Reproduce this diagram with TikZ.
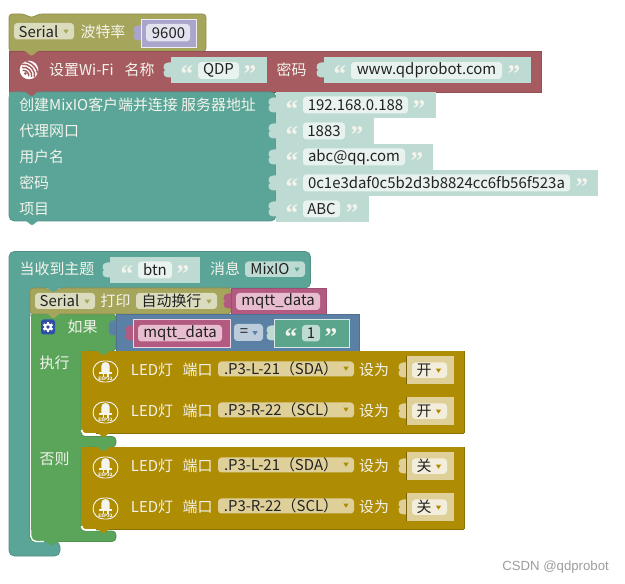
\documentclass[tikz,border=0pt]{standalone}
\usepackage{fontspec}
\setmainfont{Noto Sans CJK SC}
\newfontfamily\wmfont{Liberation Sans}
\newfontfamily\qfont{Liberation Serif}
\definecolor{cSer}{HTML}{A5A55C}
\definecolor{cWifi}{HTML}{A55B5F}
\definecolor{cTeal}{HTML}{5BA598}
\definecolor{cStr}{HTML}{BDDAD3}
\definecolor{cStrF}{HTML}{E8F2EF}
\definecolor{cNum}{HTML}{A9A5CB}
\definecolor{cNumF}{HTML}{E3E2EF}
\definecolor{cSerF}{HTML}{DBDBBE}
\definecolor{cPink}{HTML}{B35A80}
\definecolor{cPinkF}{HTML}{E8BDD0}
\definecolor{cGreen}{HTML}{5BA55B}
\definecolor{cBlue}{HTML}{5B80A5}
\definecolor{cBlueF}{HTML}{BDCCDB}
\definecolor{cLogic}{HTML}{5BA58C}
\definecolor{cLogicF}{HTML}{BDDBD0}
\definecolor{cGold}{HTML}{AE8C04}
\definecolor{cGoldF}{HTML}{DFD09A}
\definecolor{cGoldI}{HTML}{F3EEDC}
\definecolor{cLbl}{HTML}{F4F4EC}
\definecolor{cTxt}{HTML}{222222}
\definecolor{cGear}{HTML}{2F4FA8}
\newcount\nn
\tikzset{
  lbl/.style={anchor=center,inner sep=0pt,yshift=-0.5pt,text=cLbl,font=\fontsize{11.2pt}{13pt}\selectfont},
  fieldtxt/.style={anchor=center,inner sep=0pt,yshift=-0.3pt,text=cTxt,font=\fontsize{11.2pt}{13pt}\selectfont},
  quote/.style={anchor=center,inner sep=0pt,text=cLbl,font=\qfont\bfseries\fontsize{19pt}{19pt}\selectfont},
  blk/.style={fill=#1,draw=#1!88!black,line width=0.6pt},
}
\newcommand{\lab}[3]{\global\advance\nn by 1 \node[lbl] (n\the\nn) at (#1,#2) {#3};}
\newcommand{\ffld}[7]{\fill[#5,rounded corners=2.5] (#1,#2) rectangle (#3,#4);
  \global\advance\nn by 1 \node[fieldtxt] (n\the\nn) at ({#6},{(#2+#4)/2-0.4}) {#7};}
\newcommand{\tri}[3]{\fill[#3] (#1-2.6,#2-1.8) -- (#1+2.6,#2-1.8) -- (#1,#2+2.2) -- cycle;}
\newcommand{\tabin}[3]{\fill[#3] (#1+0.5,#2-7.5) -- (#1-2.5,#2-7.5) .. controls (#1-7,#2-7) and (#1-8,#2-4) .. (#1-7.5,#2-2)
  .. controls (#1-5.5,#2-1) and (#1-5.5,#2+1) .. (#1-7.5,#2+2)
  .. controls (#1-8,#2+4) and (#1-7,#2+7) .. (#1-2.5,#2+7.5) -- (#1+0.5,#2+7.5) -- cycle;}
\newcommand{\tabdown}[3]{\fill[#3] (#1,#2-0.5) .. controls (#1+3,#2-0.5) and (#1+5,#2+4) .. (#1+7.5,#2+4)
  .. controls (#1+10,#2+4) and (#1+12,#2-0.5) .. (#1+15,#2-0.5) -- cycle;}
\newcommand{\qo}[2]{\global\advance\nn by 1 \node[quote] (n\the\nn) at (#1,#2+4.3) {“};}
\newcommand{\qc}[2]{\global\advance\nn by 1 \node[quote] (n\the\nn) at (#1,#2+4.3) {”};}
\newcommand{\strblk}[9]{\pgfmathsetmacro\ymid{(#2+#4)/2}
  \tabin{#1}{\ymid}{cStr}
  \fill[cStr] (#1,#2) rectangle (#3,#4);
  \ffld{#5}{\ymid-8.5}{#6}{\ymid+8.5}{cStrF}{(#5+#6)/2}{#9}
  \qo{#7}{\ymid}\qc{#8}{\ymid}}
\newcommand{\ledrow}[3]{%
  \fill[cGold] (81,#1) rectangle (464,#1+41);
  \draw[cGold!80!black,line width=0.5pt] (81,#1+41) -- (464,#1+41) (464,#1) -- (464,#1+41);
  \begin{scope}[shift={(105.5,#1+20.5)}]
    \draw[cLbl,line width=0.7pt,rounded corners=8] (-12.5,-10.5) rectangle (12.5,10.5);
    \fill[cLbl] (-4.2,0.5) -- (-4.2,-5.3) arc[start angle=180,end angle=360,radius=4.2] -- (4.2,0.5) -- cycle;
    \fill[cLbl] (-6.5,0.3) rectangle (6.5,2.6);
    \fill[cLbl] (-3,2.6) rectangle (-1.6,6);
    \fill[cLbl] (1.6,2.6) rectangle (3,6);
    \global\advance\nn by 1
    \node[anchor=center,inner sep=0pt,text=cLbl,font=\bfseries\fontsize{3.4pt}{4pt}\selectfont] (n\the\nn) at (0,7.3) {ESP32};
  \end{scope}
  \lab{152}{#1+18}{LED灯}
  \lab{197.5}{#1+18}{端口}
  \ffld{218}{#1+10.5}{354}{#1+25.5}{cGoldF}{281}{#2}
  \tri{346}{#1+17.5}{cGold}
  \lab{374}{#1+18}{设为}
  \tabin{406}{#1+19}{cGoldF}
  \fill[cGoldF] (406,#1+5) rectangle (454,#1+33);
  \draw[cGold!70!black,line width=0.4pt] (406,#1+5) -- (406,#1+33);
  \ffld{412}{#1+11.5}{447}{#1+27}{cGoldI}{424}{#3}
  \tri{438.5}{#1+19.5}{cGold}
}
\begin{document}
\begin{tikzpicture}[x=0.75pt,y=-0.75pt]
\useasboundingbox (0,0) rectangle (625,584);
\fill[white] (0,0) rectangle (625,584);

% ---------- Serial baud
\fill[blk=cSer,rounded corners=2.5] (9,51.5) -- (9,14) -- (24,14) -- (31.5,18) -- (39,14) -- (206,14) -- (206,51.5) -- cycle;
\ffld{14}{23}{74}{39.5}{cSerF}{38.5}{Serial}
\tri{66}{31.5}{cSer}
\lab{103}{31}{波特率}
\tabin{141}{33}{cNum}
\fill[cNum] (141,19) rectangle (196,47);
\draw[white!80!cNum,line width=0.4pt] (141,19) rectangle (196,47);
\ffld{146}{24}{190}{41.5}{cNumF}{168.5}{9600}

% ---------- WiFi
\fill[blk=cWifi] (9,51.5) rectangle (541.5,92);
\tabdown{24}{51.5}{cSer}
\fill[white] (29,70) circle[radius=9.3];
\begin{scope}[shift={(29,70)}]
  \clip (0,0) circle[radius=9.3];
  \foreach \r in {5.2,8.2,11.2,14.2}{
    \draw[cWifi,line width=1.1pt] (-5.5,5.5) ++(-100:\r) arc[start angle=-100,end angle=10,radius=\r];
  }
  \fill[cWifi] (-3.6,3.6) circle[radius=1.5];
\end{scope}
\lab{81.5}{69}{设置Wi-Fi}
\lab{139.5}{69}{名称}
\tabin{171}{70}{cStr}
\fill[cStr] (171,57) rectangle (267,83);
\ffld{198}{62}{239}{79}{cStrF}{218.5}{QDP}
\qo{187}{70}\qc{250}{70}
\lab{291.5}{69}{密码}
\tabin{324}{70}{cStr}
\fill[cStr] (324,57) rectangle (531,83);
\ffld{351}{62}{502}{79}{cStrF}{426.5}{www.qdprobot.com}
\qo{340}{70}\qc{514}{70}

% ---------- MixIO connect
\fill[blk=cTeal,rounded corners=4] (9,92) -- (276,92) -- (276,221) -- (9,221) -- cycle;
\fill[cTeal] (9,92) rectangle (20,100);
\tabdown{24}{92}{cWifi}
\tabdown{24.5}{221}{cTeal}
\node[lbl,anchor=west] (rowa) at (19,104) {创建MixIO客户端并连接 服务器地址};
\node[lbl,anchor=west] (rowb) at (19,130) {代理网口};
\node[lbl,anchor=west] (rowc) at (19,156) {用户名};
\node[lbl,anchor=west] (rowd) at (19,182) {密码};
\node[lbl,anchor=west] (rowe) at (19,208) {项目};
\strblk{276}{92}{436}{118}{303}{408}{292}{419}{192.168.0.188}
\strblk{276}{118}{374}{144}{303}{345}{292}{357}{1883}
\strblk{276}{144}{433}{170}{303}{405}{292}{417}{abc@qq.com}
\strblk{276}{170}{598}{196}{303}{570}{292}{582}{0c1e3daf0c5b2d3b8824cc6fb56f523a}
\strblk{276}{196}{369}{222}{303}{340}{292}{352}{ABC}

% ---------- MQTT receive (C shape)
\fill[blk=cTeal,rounded corners=4] (9,251.5) -- (310.5,251.5) -- (310.5,288) -- (30,288) -- (30,541.5) -- (60,541.5) -- (60,556) -- (9,556) -- cycle;
\lab{57}{268}{当收到主题}
\strblk{110}{257}{200}{283}{138}{172}{127}{183}{btn}
\lab{225}{268}{消息}
\ffld{245}{261.5}{305}{277}{cStr}{270}{MixIO}
\tri{297}{269.5}{cTeal}

% ---------- If / else (green C)
\fill[blk=cGreen,rounded corners=3] (30,314) -- (116,314) -- (116,351) -- (81,351) -- (81,436.5) -- (116,436.5) -- (116,447) -- (81,447) -- (81,531) -- (116,531) -- (116,541.5) -- (30,541.5) -- cycle;
\fill[cGreen] (100,351) rectangle (116,354);
\draw[white,line width=1pt,rounded corners=4] (30.8,530) -- (30.8,541.5) -- (44,541.5);
\tabdown{44.5}{541.5}{cGreen}
\draw[cLbl,line width=0.5pt] (30.6,316) -- (30.6,535);
\lab{82.5}{326}{如果}
\lab{54.5}{362}{执行}
\lab{54.5}{458}{否则}
% gear icon
\fill[cGear,rounded corners=2] (41,319.5) rectangle (55,334.5);
\begin{scope}[shift={(48,327)}]
  \foreach \a in {0,60,...,300}{\fill[white,rotate=\a] (-1.1,-5) rectangle (1.1,5);}
  \fill[white] (0,0) circle[radius=3.9];
  \fill[cGear] (0,0) circle[radius=1.8];
\end{scope}

% ---------- Serial print
\fill[blk=cSer,rounded corners=2.5] (30,314) -- (30,288) -- (46,288) -- (53.5,292) -- (61,288) -- (231,288) -- (231,314) -- cycle;
\tabdown{46}{288}{cTeal}
\ffld{35}{293}{95}{309}{cSerF}{59.5}{Serial}
\tri{87}{301.5}{cSer}
\lab{115.5}{300}{打印}
\ffld{136}{293}{217}{309}{cSerF}{171.5}{自动换行}
\tri{209}{301.5}{cSer}
\tabin{231}{301}{cPink}
\fill[blk=cPink] (231,288) rectangle (326,314);
\ffld{236}{293}{320}{310}{cPinkF}{278}{mqtt\_data}
\tabdown{46}{314}{cSer}

% ---------- condition
\tabin{116}{328}{cBlue}
\fill[blk=cBlue] (116,314) rectangle (359,351);
\tabin{133}{333}{cPink}
\fill[cPink] (133,319) rectangle (230,347);
\draw[white!75!cPink,line width=0.4pt] (133,319) rectangle (230,347);
\ffld{138}{325}{222}{341.5}{cPinkF}{180}{mqtt\_data}
\ffld{234}{324}{263}{341}{cBlueF}{244}{=}
\tri{255}{333}{cBlue}
\tabin{274}{333}{cLogicF}
\fill[cLogic] (274,319) rectangle (349,347);
\draw[white!75!cLogic,line width=0.4pt] (274,319) rectangle (349,347);
\ffld{302}{325}{320}{341.5}{cLogicF}{311}{1}
\qo{291}{333}\qc{331}{333}

% ---------- LED rows
\ledrow{351}{.P3-L-21（SDA）}{开}
\ledrow{392}{.P3-R-22（SCL）}{开}
\tabdown{96}{351}{cGreen}
\tabdown{96}{392}{cGold}
\draw[white,line width=1.3pt,rounded corners=3] (81.5,430) -- (81.5,434) -- (96,434);
\tabdown{96}{433}{cGold}
\ledrow{447}{.P3-L-21（SDA）}{关}
\ledrow{488}{.P3-R-22（SCL）}{关}
\tabdown{96}{447}{cGreen}
\tabdown{96}{488}{cGold}
\draw[white,line width=1.3pt,rounded corners=3] (81.5,526) -- (81.5,530) -- (96,530);
\tabdown{96}{529}{cGold}

% ---------- watermark
\node[anchor=west,inner sep=0pt,text=black!38,font=\wmfont\fontsize{9.9pt}{11pt}\selectfont] (wm) at (502,567) {CSDN @qdprobot};
\end{tikzpicture}
\end{document}
